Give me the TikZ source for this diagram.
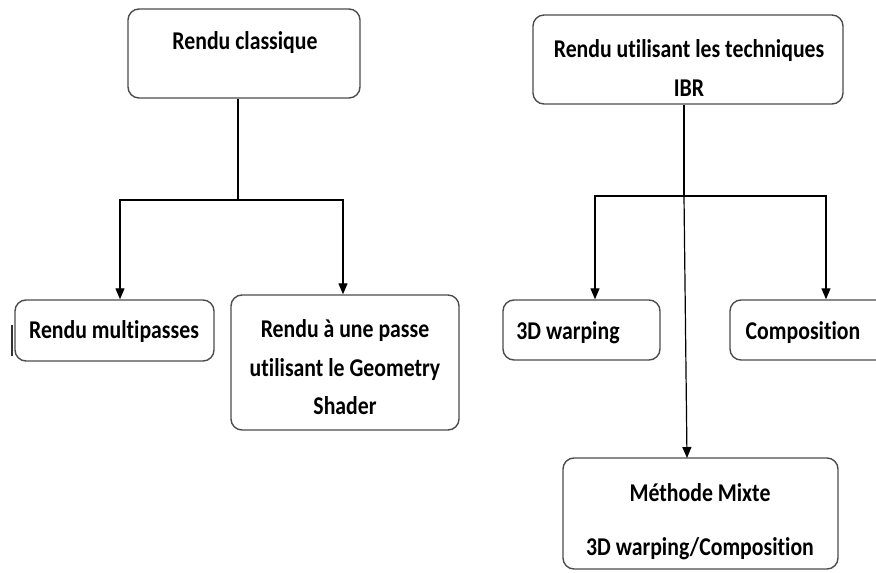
\documentclass[tikz,border=0pt]{standalone}
\usepackage{fontspec}
\setmainfont[Ligatures={NoCommon}, FakeStretch=0.85]{Carlito}
\usetikzlibrary{arrows.meta}
\begin{document}
\begin{tikzpicture}[x=1pt,y=-1pt,
  box/.style={draw=black!70, line width=1.4pt, rounded corners=11pt, fill=white, inner sep=0pt},
  lbl/.style={font=\fontsize{25.6}{30}\selectfont\bfseries, inner sep=0pt, anchor=base},
  link/.style={line width=1.2pt, black},
  arr/.style={link, -{Triangle[length=11pt,width=9pt]}}]
\useasboundingbox (0,0) rectangle (876,573);
\clip (0,0) rectangle (876,573);
\fill[white] (0,0) rectangle (876,573);

% boxes
\node[box, minimum width=232pt, minimum height=89pt] (classique) at (244,53.5) {};
\node[box, minimum width=310pt, minimum height=89pt] (ibr) at (688,59.5) {};
\node[box, minimum width=199pt, minimum height=61pt] (multi) at (114.5,330.5) {};
\node[box, minimum width=228pt, minimum height=135pt] (passe) at (345,362.5) {};
\node[box, minimum width=157pt, minimum height=60pt] (warp) at (581.5,330) {};
\node[box, minimum width=192pt, minimum height=60pt] (compo) at (826,330) {};
\node[box, minimum width=275pt, minimum height=111pt] (mixte) at (700.5,513.5) {};

% labels
\node[lbl] (tclassique) at (245,49) {Rendu classique};
\node[lbl] (tibr1) at (689,57) {Rendu utilisant les techniques};
\node[lbl] (tibr2) at (689,96) {IBR};
\node[lbl] (tmulti) at (114,338) {Rendu multipasses};
\node[lbl] (tpasse1) at (345,337) {Rendu à une passe};
\node[lbl] (tpasse2) at (345,376) {utilisant le Geometry};
\node[lbl] (tpasse3) at (345,414) {Shader};
\node[lbl] (twarp) at (568,339) {3D warping};
\node[lbl] (tcompo) at (803,339) {Composition};
\node[lbl] (tmixte1) at (700,501) {Méthode Mixte};
\node[lbl] (tmixte2) at (700,555) {3D warping/Composition};

% left tree
\coordinate (jL) at (238,200);
\draw[link] (classique.south -| jL) -- (jL);
\draw[arr] (jL) -| ([xshift=5.5pt]multi.north);
\draw[arr] (jL) -| ([xshift=-2pt]passe.north);

% right tree
\coordinate (jR) at (684,196);
\coordinate (mixtetop) at (687,458);
\draw[link] (ibr.south -| jR) -- (jR);
\draw[arr] (jR) -| ([xshift=13.5pt]warp.north);
\draw[arr] (jR) -| (compo.north);
\draw[arr] (jR) -- (mixtetop);

% short mark left of the first box
\draw[line width=1.6pt, black!80] (12,325) -- (12,356);
\end{tikzpicture}
\end{document}
